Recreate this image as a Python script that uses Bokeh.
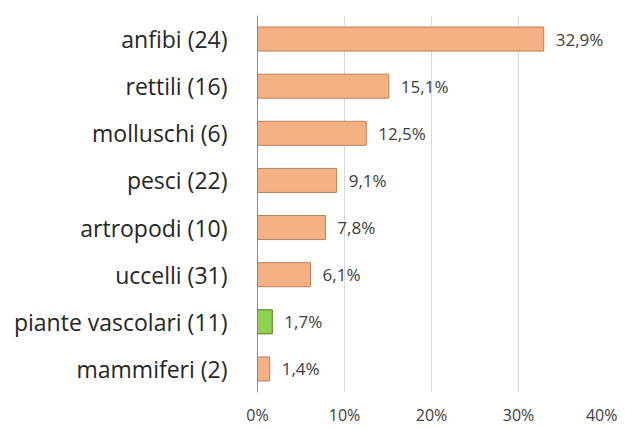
from bokeh.plotting import figure
from bokeh.models import ColumnDataSource, FactorRange, Range1d, FixedTicker, CustomJSTickFormatter
from bokeh.core.properties import value
from bokeh.embed import file_html
from bokeh.resources import INLINE

categories = ["anfibi (24)", "rettili (16)", "molluschi (6)", "pesci (22)",
              "artropodi (10)", "uccelli (31)", "piante vascolari (11)", "mammiferi (2)"]
values = [32.9, 15.1, 12.5, 9.1, 7.8, 6.1, 1.7, 1.4]
value_labels = ["32,9%", "15,1%", "12,5%", "9,1%", "7,8%", "6,1%", "1,7%", "1,4%"]
x_ticks = [0, 10, 20, 30, 40]

orange_fill, orange_line = "#F4B183", "#B7825A"
green_fill, green_line = "#8FD14F", "#4E7A2A"
fills = [green_fill if c.startswith("piante") else orange_fill for c in categories]
lines = [green_line if c.startswith("piante") else orange_line for c in categories]

src = ColumnDataSource(dict(cat=categories, val=values, lab=value_labels, fill=fills, line=lines))

p = figure(y_range=FactorRange(*reversed(categories), range_padding=0),
           x_range=Range1d(0, 40),
           frame_width=348, frame_height=377,
           output_backend="svg", toolbar_location=None,
           min_border_left=257, min_border_right=12, min_border_top=15, min_border_bottom=0)
p.outline_line_color = None

p.hbar(y="cat", right="val", left=0, height=0.51, source=src,
       fill_color="fill", line_color="line", line_width=1)

p.text(x="val", y="cat", text="lab", source=src, x_offset=12,
       text_baseline="middle", text_align="left", text_font=value("Open Sans"),
       text_font_size="17px", text_color="#404040")

p.xaxis.ticker = FixedTicker(ticks=x_ticks)
p.xaxis.formatter = CustomJSTickFormatter(code="return tick + '%';")
p.xaxis.axis_line_color = None
p.xaxis.major_tick_line_color = None
p.xaxis.minor_tick_line_color = None
p.xaxis.major_label_standoff = 5
p.xaxis.major_label_text_font = "Open Sans"
p.xaxis.major_label_text_font_size = "16px"
p.xaxis.major_label_text_color = "#404040"

p.yaxis.axis_line_color = "#868686"
p.yaxis.major_tick_line_color = None
p.yaxis.minor_tick_line_color = None
p.yaxis.major_label_standoff = 24
p.yaxis.major_label_text_font = "Open Sans"
p.yaxis.major_label_text_font_size = "23px"
p.yaxis.major_label_text_color = "#262626"

p.ygrid.grid_line_color = None
p.xgrid.grid_line_color = "#D9D9D9"
p.xgrid.ticker = FixedTicker(ticks=x_ticks)

open("out.html", "w").write(file_html(p, INLINE))
